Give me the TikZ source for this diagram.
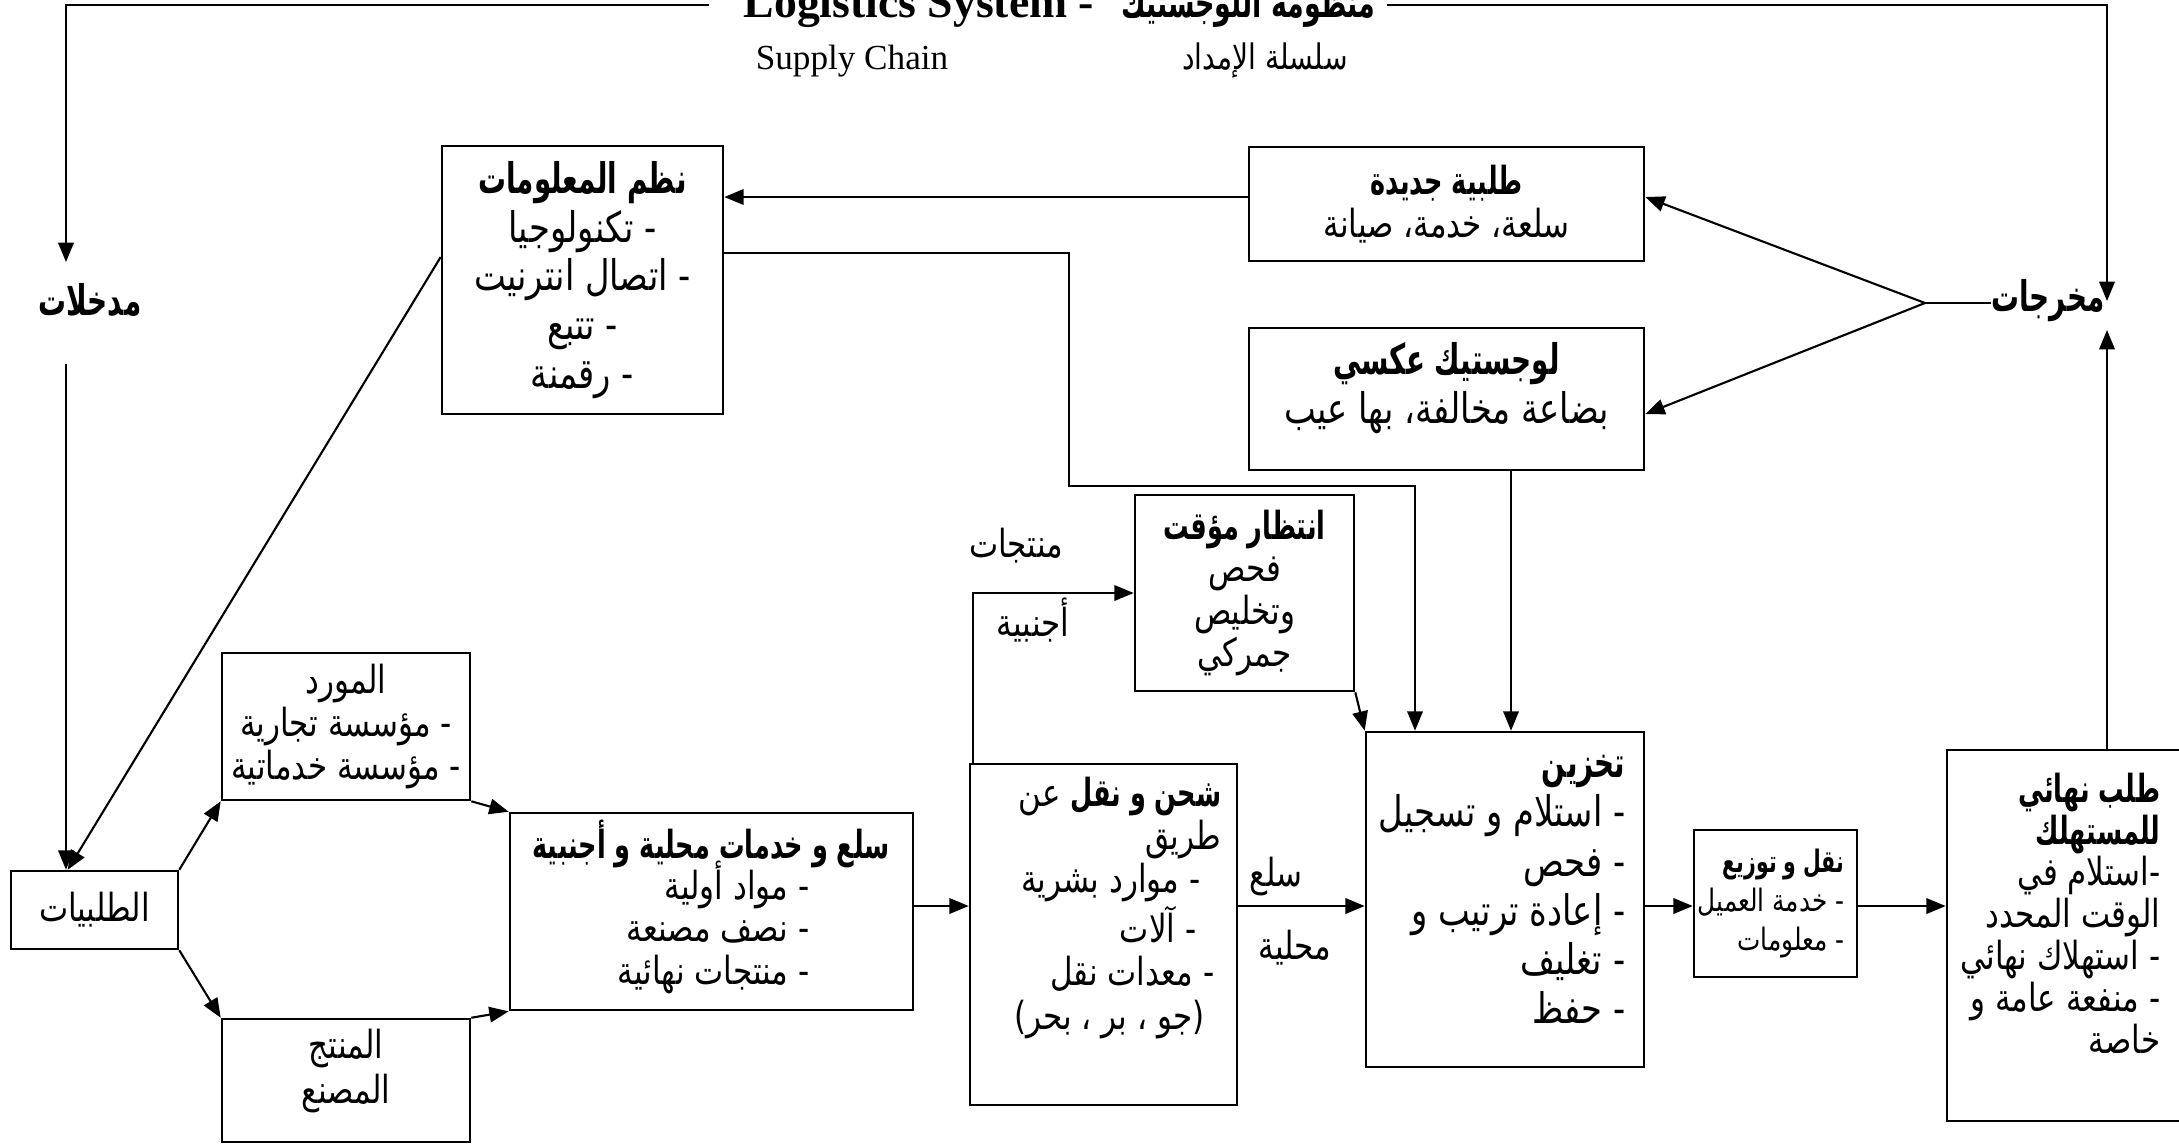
\documentclass[tikz,border=0pt]{standalone}
\usepackage{fontspec}
\setmainfont{Liberation Serif}
\newfontfamily\ar[Script=Arabic, FakeStretch=0.8]{DejaVu Sans}
\newfontfamily\arb[Script=Arabic, FakeStretch=0.66]{DejaVu Sans Bold}
\TeXXeTstate=1
\usetikzlibrary{arrows.meta,calc}
\newcommand\AR[1]{\beginR#1\endR}
\newcommand\fA{\ar\fontsize{12}{13.9}\selectfont}
\newcommand\fB{\ar\fontsize{11}{12.1}\selectfont}
\tikzset{
  box/.style={draw, line width=0.7pt, inner sep=0pt},
  ln/.style={line width=0.6pt},
  arr/.style={line width=0.6pt, -{Triangle[length=5.5pt,width=4.4pt]}},
  tA/.style={font=\fA, align=center, inner sep=0pt},
  tB/.style={font=\fB, align=center, inner sep=0pt},
}
\begin{document}
\begin{tikzpicture}[x=0.01cm, y=-0.01cm]
\useasboundingbox (0,0) rectangle (2179,1144);
% titles
\node[anchor=base west, inner sep=0pt, font=\fontsize{13}{15}\selectfont\bfseries] (tlEn) at (743,17) {Logistics System};
\node[anchor=base, inner sep=0pt, font=\fontsize{13}{15}\selectfont\bfseries] (tlDash) at (1086,17) {-};
\node[anchor=base east, inner sep=0pt, font=\ar\fontsize{11.6}{13}\selectfont\arb] (tlAr) at (1376,17) {\AR{منظومة اللوجستيك}};
\node[anchor=base, inner sep=0pt] (scEn) at (852,69) {Supply Chain};
\node[anchor=base, inner sep=0pt, font=\ar\fontsize{10}{12}\selectfont] (scAr) at (1265,69) {\AR{سلسلة الإمداد}};
\node[tA, font=\fA\arb] (mdk) at (90,300) {\AR{مدخلات}};
\node[tA, font=\fA\arb] (mkh) at (2048,301) {\AR{مخرجات}};
% boxes
\node[box, tB, minimum width=1.67cm, minimum height=0.78cm] (talab) at (94.5,910) {\AR{الطلبيات}};
\node[box, tA, minimum width=2.81cm, minimum height=2.68cm] (nuzum) at (582.5,280)
  {\AR{{\arb نظم المعلومات}}\\\AR{- تكنولوجيا}\\\AR{- اتصال انترنيت}\\\AR{- تتبع}\\\AR{- رقمنة}};
\node[box, tB, minimum width=3.95cm, minimum height=1.14cm] (jadida) at (1446.5,204)
  {\AR{{\arb طلبية جديدة}}\\\AR{سلعة، خدمة، صيانة}};
\node[box, minimum width=3.95cm, minimum height=1.42cm] (aksi) at (1446.5,399) {};
\node[tA] (aksiT) at (1446.5,388) {\AR{{\arb لوجستيك عكسي}}\\\AR{بضاعة مخالفة، بها عيب}};
\node[box, tB, minimum width=2.19cm, minimum height=1.96cm] (intizar) at (1244.5,593)
  {\AR{{\arb انتظار مؤقت}}\\\AR{فحص}\\\AR{وتخليص}\\\AR{جمركي}};
\node[box, minimum width=2.67cm, minimum height=3.41cm] (shahn) at (1103.5,934.5) {};
\node[tB, align=right, anchor=east, font=\ar\fontsize{11}{12.35}\selectfont] (shahnT) at (1222,907.5)
  {\AR{{\arb شحن و نقل} عن}\\\AR{طريق}\\\AR{- موارد بشرية}\kern0.21cm\\\AR{- آلات}\kern0.25cm\\\AR{- معدات نقل}\kern0.07cm\\\AR{(جو ، بر ، بحر)}\kern0.17cm};
\node[box, minimum width=2.78cm, minimum height=3.35cm] (takhzin) at (1505,899.5) {};
\node[tA, align=right, anchor=east, font=\ar\fontsize{12}{14}\selectfont] (takhzinT) at (1626,889.5)
  {\AR{{\arb تخزين}}\\\AR{- استلام و تسجيل}\\\AR{- فحص}\\\AR{- إعادة ترتيب و}\\\AR{- تغليف}\\\AR{- حفظ}};
\node[box, minimum width=1.63cm, minimum height=1.47cm] (naql) at (1775.5,903.5) {};
\node[tB, align=right, anchor=east, font=\ar\fontsize{8.8}{11.1}\selectfont] (naqlT) at (1845,903.5)
  {\AR{{\arb نقل و توزيع}}\\\AR{- خدمة العميل}\\\AR{- معلومات}};
\node[box, minimum width=2.43cm, minimum height=3.71cm] (final) at (2068.5,935.5) {};
\node[tB, align=right, anchor=east, font=\ar\fontsize{11}{11.9}\selectfont] (finalT) at (2161,913)
  {\AR{{\arb طلب نهائي}}\\\AR{{\arb للمستهلك}}\\\AR{-استلام في}\\\AR{الوقت المحدد}\\\AR{- استهلاك نهائي}\\\AR{- منفعة عامة و}\\\AR{خاصة}};
\node[box, minimum width=4.03cm, minimum height=1.97cm] (sila) at (711.5,911.5) {};
\node[tB, font=\fB\arb] (silaT) at (711,844) {\AR{سلع و خدمات محلية و أجنبية}};
\node[tB, align=right, anchor=east] (silaB) at (810,927) {\AR{- مواد أولية}\\\AR{- نصف مصنعة}\\\AR{- منتجات نهائية}};
\node[box, tB, minimum width=2.48cm, minimum height=1.47cm] (mawrid) at (346,726.5)
  {\AR{المورد}\\\AR{- مؤسسة تجارية}\\\AR{- مؤسسة خدماتية}};
\node[box, minimum width=2.48cm, minimum height=1.23cm] (muntij) at (346,1080.5) {};
\node[tB, font=\ar\fontsize{11}{12.8}\selectfont] (muntijT) at (346,1071) {\AR{المنتج}\\\AR{المصنع}};
% labels
\node[tB] (lbMun) at (1016,546) {\AR{منتجات}};
\node[tB] (lbAj) at (1033,620) {\AR{أجنبية}};
\node[tB] (lbSl) at (1276,876) {\AR{سلع}};
\node[tB] (lbMh) at (1295,948) {\AR{محلية}};
% frame
\coordinate (L) at (66,5);
\coordinate (R) at (2107,5);
\coordinate (tA) at ($(tlEn.base west)+(-34,0)$);
\coordinate (tB) at ($(tlAr.base east)+(11,0)$);
\coordinate (inTip) at (66,262);
\coordinate (inStart) at (66,364);
\coordinate (outTip) at (2107,330);
\draw[arr] (tA |- L) -- (L) -- (inTip);
\draw[arr] (inStart) -- (inStart |- talab.north);
\draw[arr] (tB |- R) -- (R) -- (R |- mkh.center);
\draw[arr] (final.north -| R) -- (outTip);
% outputs
\coordinate (J) at (1925,303);
\coordinate (jE) at ($(jadida.east)+(0,-7)$);
\coordinate (aE) at ($(aksi.east)+(0,15)$);
\draw[ln] (J) -- (mkh.west |- J);
\draw[arr] (J) -- (jE);
\draw[arr] (J) -- (aE);
\coordinate (jW) at ($(jadida.west)+(0,-7)$);
\draw[arr] (jW) -- (jW -| nuzum.east);
\coordinate (nE) at ($(nuzum.east)+(0,-27)$);
\coordinate (k1) at (1069,486);
\coordinate (k2) at (1415,486);
\draw[arr] (nE) -| (k1) -- (k2) -- (k2 |- takhzin.north);
\coordinate (nW) at ($(nuzum.west)+(0,-23)$);
\coordinate (talTip) at ($(talab.north west)+(58,0)$);
\draw[arr] (nW) -- (talTip);
\coordinate (aS) at ($(aksi.south)+(64.5,0)$);
\draw[arr] (aS) -- (aS |- takhzin.north);
\draw[arr] (intizar.south east) -- (takhzin.north west);
\coordinate (sN) at ($(shahn.north west)+(4,0)$);
\draw[arr] (sN) |- (intizar.west);
\coordinate (row) at (0,906);
\draw[arr] (sila.east |- row) -- (shahn.west |- row);
\draw[arr] (shahn.east |- row) -- (takhzin.west |- row);
\draw[arr] (takhzin.east |- row) -- (naql.west |- row);
\draw[arr] (naql.east |- row) -- (final.west |- row);
\draw[arr] (talab.north east) -- (mawrid.south west);
\draw[arr] (talab.south east) -- (muntij.north west);
\draw[arr] (mawrid.south east) -- (sila.north west);
\draw[arr] (muntij.north east) -- (sila.south west);
\end{tikzpicture}
\end{document}
